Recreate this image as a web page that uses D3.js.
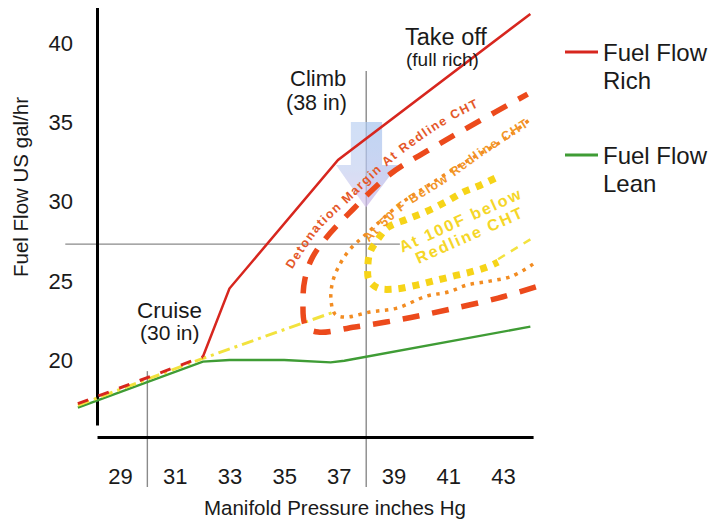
<!DOCTYPE html>
<html>
<head>
<meta charset="utf-8">
<script src="https://cdn.jsdelivr.net/npm/d3@7"></script>
<style>
  html, body { margin: 0; padding: 0; background: #fff; }
  svg { display: block; font-family: Arial, "Liberation Sans", Helvetica, sans-serif; }
</style>
</head>
<body>
<svg id="chart" width="709" height="521"></svg>
<script>
// Manifold pressure (in Hg) ticks and fuel flow (US gal/hr) ticks
const xTicks = [29, 31, 33, 35, 37, 39, 41, 43];
const yTicks = [20, 25, 30, 35, 40];

// [manifold pressure, fuel flow] pairs
const fuelFlowRich = [[32.03, 20.2], [33.0, 24.5], [36.97, 32.6], [44.0, 41.8]];
const richShared = [[27.46, 17.25], [32.03, 20.2]];
const fuelFlowLean = [[27.46, 17.0], [32.03, 19.9], [33.0, 20.0], [35.0, 20.0], [36.7, 19.85], [37.2, 19.95], [44.0, 22.1]];
const leanOfPeakPath = [[27.46, 17.15], [32.03, 20.1], [36.78, 23.0]];

const detonationMargin = [
  [44.2, 24.6], [42.82, 23.9], [41.06, 23.2], [39.34, 22.58], [37.59, 22.08],
  [36.24, 21.76], [35.8, 22.1], [35.69, 23.84], [35.76, 25.1], [36.0, 26.35],
  [36.49, 27.6], [37.52, 29.5], [38.87, 31.7], [40.33, 33.27], [41.79, 34.72], [43.9, 36.75]
];
const below50F = [
  [44.1, 26.04], [43.33, 25.28], [42.52, 24.97], [41.68, 24.72], [40.99, 24.28],
  [40.22, 24.03], [39.12, 23.27], [38.14, 23.02], [37.22, 22.7], [36.86, 22.89],
  [36.71, 23.84], [36.78, 24.97], [37.04, 26.04], [37.41, 26.98], [37.95, 27.86],
  [39.23, 29.81], [40.33, 31.07], [41.79, 32.64], [42.89, 33.71], [43.99, 35.16]
];
const below100F = [
  [42.71, 31.45], [42.08, 30.94], [41.54, 30.57], [40.95, 30.0], [40.22, 29.37],
  [39.49, 28.87], [38.8, 28.36], [38.43, 27.61], [38.14, 26.79], [38.06, 25.91],
  [38.1, 25.03], [38.43, 24.53], [39.05, 24.47], [39.85, 24.72], [40.44, 24.97],
  [41.17, 25.28], [41.79, 25.53], [42.41, 25.85], [42.82, 26.16]
];
const below100FTail = [[42.82, 26.35], [44.0, 27.6]];

// Reference lines: cruise / climb pressures and the crosshair fuel flow
const cruiseMP = 30, climbMP = 38, crossFF = 27.3;

const svg = d3.select("#chart");

const x = d3.scaleLinear().domain([29, 43]).range([120, 503]);
const y = d3.scaleLinear().domain([20, 40]).range([360, 42.5]);

const line = d3.line().x(d => x(d[0])).y(d => y(d[1]));
const smooth = d3.line().x(d => x(d[0])).y(d => y(d[1])).curve(d3.curveCatmullRom.alpha(0.5));

// Gray reference lines
const ref = svg.append("g").attr("stroke", "#8a8a8a").attr("stroke-width", 1.4);
ref.append("line").attr("x1", x(27.0)).attr("x2", x(39.23)).attr("y1", y(crossFF)).attr("y2", y(crossFF));
ref.append("line").attr("x1", x(climbMP)).attr("x2", x(climbMP)).attr("y1", y(38.2)).attr("y2", y(12.0));
ref.append("line").attr("x1", x(cruiseMP)).attr("x2", x(cruiseMP)).attr("y1", y(19.3)).attr("y2", y(12.0));

// Axes
const yAxisScale = d3.scaleLinear().domain([15.9, 42.2]).range([y(15.9), y(42.2)]);
const yAxis = svg.append("g").attr("transform", `translate(97,0)`)
  .call(d3.axisLeft(yAxisScale).tickValues(yTicks).tickSize(0).tickSizeOuter(0).tickPadding(24));
yAxis.select(".domain").attr("stroke", "#000").attr("stroke-width", 3);
yAxis.selectAll("text").attr("font-size", 22).attr("fill", "#1a1a1a").attr("font-family", "Arial, Liberation Sans, sans-serif").attr("dy", "0.35em");

const xAxisScale = d3.scaleLinear().domain([28.16, 44.1]).range([x(28.16), x(44.1)]);
const xAxis = svg.append("g").attr("transform", `translate(0,437)`)
  .call(d3.axisBottom(xAxisScale).tickValues(xTicks).tickSize(0).tickSizeOuter(0));
xAxis.select(".domain").attr("stroke", "#000").attr("stroke-width", 3);
xAxis.selectAll("text").attr("font-size", 22).attr("fill", "#1a1a1a").attr("font-family", "Arial, Liberation Sans, sans-serif")
  .attr("y", 39).attr("dy", "0.35em");

svg.append("text").attr("x", 335).attr("y", 515).attr("text-anchor", "middle")
  .attr("font-size", 20.5).attr("fill", "#1a1a1a").text("Manifold Pressure inches Hg");
svg.append("text").attr("transform", "translate(28,187) rotate(-90)").attr("text-anchor", "middle")
  .attr("font-size", 20.5).attr("fill", "#1a1a1a").text("Fuel Flow US gal/hr");

// Climb arrow (translucent)
const defs = svg.append("defs");
const g1 = defs.append("linearGradient").attr("id", "arrowGrad").attr("x1", 0).attr("y1", 0).attr("x2", 0).attr("y2", 1);
g1.append("stop").attr("offset", "0%").attr("stop-color", "#a9c6ef");
g1.append("stop").attr("offset", "55%").attr("stop-color", "#b6c4ee");
g1.append("stop").attr("offset", "100%").attr("stop-color", "#cbb5e6");
const arrow = svg.append("g").attr("opacity", 0.72);
const arrowPts = [[37.44, 34.99], [38.58, 34.99], [38.58, 32.28], [39.16, 32.28], [37.99, 29.6], [36.9, 32.28], [37.44, 32.28]];
arrow.append("path").attr("d", line(arrowPts) + "Z").attr("fill", "url(#arrowGrad)");
const arrowLeft = [[37.44, 34.99], [37.99, 34.99], [37.99, 29.6], [36.9, 32.28], [37.44, 32.28]];
arrow.append("path").attr("d", line(arrowLeft) + "Z").attr("fill", "#ffffff").attr("opacity", 0.25);

// Shared low-power segment
svg.append("path").attr("d", line(fuelFlowLean)).attr("fill", "none")
  .attr("stroke", "#3f9c35").attr("stroke-width", 2.4);
svg.append("path").attr("d", line(leanOfPeakPath)).attr("fill", "none")
  .attr("stroke", "#f2e23e").attr("stroke-width", 3).attr("stroke-dasharray", "12,5,3,5");
svg.append("path").attr("d", line(richShared)).attr("fill", "none")
  .attr("stroke", "#d7261e").attr("stroke-width", 3).attr("stroke-dasharray", "11,11");

// CHT envelopes
svg.append("path").attr("d", smooth(below100F)).attr("fill", "none")
  .attr("stroke", "#f6d418").attr("stroke-width", 7).attr("stroke-dasharray", "7,7");
svg.append("path").attr("d", line(below100FTail)).attr("fill", "none")
  .attr("stroke", "#f3e23e").attr("stroke-width", 2.5).attr("stroke-dasharray", "8,7");
svg.append("path").attr("d", smooth(below50F)).attr("fill", "none")
  .attr("stroke", "#f28c22").attr("stroke-width", 3.5).attr("stroke-dasharray", "3.5,5.5");
svg.append("path").attr("d", smooth(detonationMargin)).attr("fill", "none")
  .attr("stroke", "#ec4a1c").attr("stroke-width", 5.5).attr("stroke-dasharray", "17,13");

// Rich fuel flow
svg.append("path").attr("d", line(fuelFlowRich)).attr("fill", "none")
  .attr("stroke", "#d7261e").attr("stroke-width", 2.5);

// Curved labels
const detLabelPath = [[35.3, 25.7], [36.3, 28.2], [37.45, 30.1], [38.75, 32.2], [40.05, 33.9], [41.35, 35.3], [42.9, 36.6]];
const lbl50Path = [[38.1, 27.4], [39.4, 29.5], [40.85, 31.1], [42.3, 32.9], [44.1, 34.9]];
defs.append("path").attr("id", "detPath").attr("d", smooth(detLabelPath));
defs.append("path").attr("id", "p50Path").attr("d", smooth(lbl50Path));

svg.append("text").attr("font-size", 12.5).attr("font-weight", "bold").attr("fill", "#e4582a")
  .attr("letter-spacing", 1.5)
  .append("textPath").attr("href", "#detPath").text("Detonation Margin At Redline CHT");
svg.append("text").attr("font-size", 12.5).attr("font-weight", "bold").attr("fill", "#f29526")
  .attr("letter-spacing", 1.6)
  .append("textPath").attr("href", "#p50Path").text("At 50 F Below Redline CHT");

// Centres of the two rotated lines of the 100F label
const l100 = [[41.54, 28.5], [41.87, 27.55]];
svg.append("text").attr("transform", `translate(${x(l100[0][0])},${y(l100[0][1])}) rotate(-24.5)`)
  .attr("text-anchor", "middle").attr("font-size", 16).attr("font-weight", "bold")
  .attr("letter-spacing", 2).attr("fill", "#f5d628").text("At 100F below");
svg.append("text").attr("transform", `translate(${x(l100[1][0])},${y(l100[1][1])}) rotate(-24)`)
  .attr("text-anchor", "middle").attr("font-size", 16).attr("font-weight", "bold")
  .attr("letter-spacing", 2).attr("fill", "#f5d628").text("Redline CHT");

// Annotations
const ann = svg.append("g").attr("fill", "#1a1a1a");
ann.append("text").attr("x", 405).attr("y", 45).attr("font-size", 23.5).text("Take off");
ann.append("text").attr("x", 406).attr("y", 66).attr("font-size", 19).text("(full rich)");
ann.append("text").attr("x", 290).attr("y", 86).attr("font-size", 22).text("Climb");
ann.append("text").attr("x", 286).attr("y", 110).attr("font-size", 21.5).text("(38 in)");
ann.append("text").attr("x", 137).attr("y", 318).attr("font-size", 22.5).text("Cruise");
ann.append("text").attr("x", 140).attr("y", 340).attr("font-size", 21).text("(30 in)");

// Legend
const legend = [
  { name1: "Fuel Flow", name2: "Rich", color: "#d7261e", y: 52 },
  { name1: "Fuel Flow", name2: "Lean", color: "#3f9c35", y: 155 }
];
const lg = svg.append("g").selectAll("g").data(legend).join("g");
lg.append("line").attr("x1", 565).attr("x2", 598).attr("y1", d => d.y).attr("y2", d => d.y)
  .attr("stroke", d => d.color).attr("stroke-width", 3);
lg.append("text").attr("x", 603).attr("y", d => d.y + 9).attr("font-size", 24).attr("fill", "#1a1a1a").text(d => d.name1);
lg.append("text").attr("x", 603).attr("y", d => d.y + 37).attr("font-size", 24).attr("fill", "#1a1a1a").text(d => d.name2);
</script>
</body>
</html>
